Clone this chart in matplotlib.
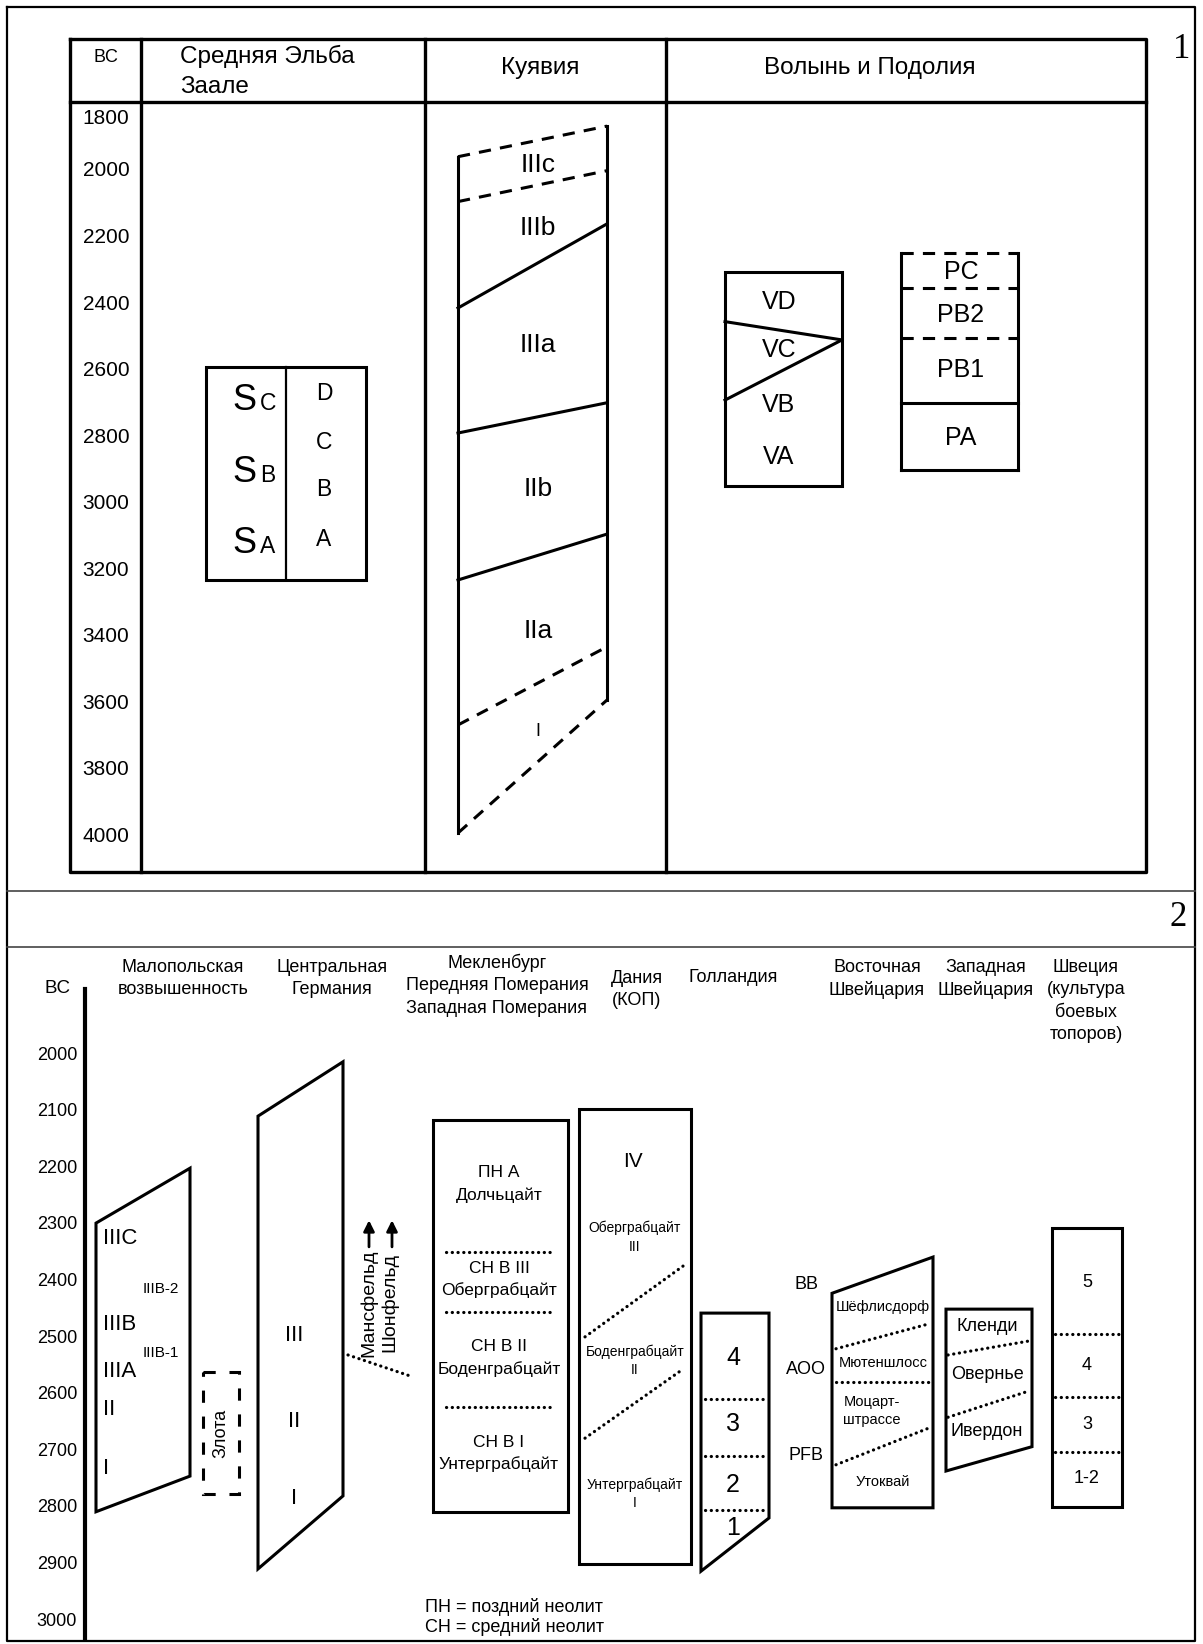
import matplotlib
matplotlib.use('Agg')
import matplotlib.pyplot as plt
from matplotlib import font_manager
from matplotlib.patches import Polygon

# ======================= DATA =======================
# ---- panel 1 ----
P1_TICKS = [1800, 2000, 2200, 2400, 2600, 2800, 3000, 3200, 3400, 3600, 3800, 4000]
P1_HEADER_BC = 'BC'
P1_HEADER_ELBE = ['Средняя Эльба', 'Заале']
P1_HEADER_KUY = 'Куявия'
P1_HEADER_VOL = 'Волынь и Подолия'

ELBE_BOX = [2590, 3230]
ELBE_S_SUBS = ['C', 'B', 'A']
ELBE_S_YEARS = [2719, 2935, 3149]
ELBE_PHASES = ['D', 'C', 'B', 'A']
ELBE_PHASE_YEARS = [2668, 2817, 2959, 3107]

KUY_LEFT = [1957, 2092, 2412, 2788, 3230, 3666, 3991]
KUY_RIGHT = [1865, 1999, 2159, 2697, 3092, 3431, 3591]
KUY_DASHED = [True, True, False, False, False, True, True]
KUY_LABELS = ['IIIc', 'IIIb', 'IIIa', 'IIb', 'IIa', 'I']
KUY_LABEL_YEARS = [1982, 2172, 2523, 2957, 3384, 3687]

VOL_BOX = [2303, 2947]
VOL_SPLITS_LEFT = [2453, 2689]
VOL_SPLITS_RIGHT = [2508, 2508]
VOL_LABELS = ['VD', 'VC', 'VB', 'VA']
VOL_LABEL_YEARS = [2393, 2538, 2704, 2859]

POD_BOUNDS = [2247, 2353, 2503, 2699, 2899]
POD_DASHED = [True, True, True, False, False]
POD_LABELS = ['PC', 'PB2', 'PB1', 'PA']
POD_LABEL_YEARS = [2303, 2433, 2598, 2803]

# ---- panel 2 ----
P2_TICKS = [2000, 2100, 2200, 2300, 2400, 2500, 2600, 2700, 2800, 2900, 3000]
P2_COLUMNS = [['Малопольская', 'возвышенность'],
              ['Центральная', 'Германия'],
              ['Мекленбург', 'Передняя Померания', 'Западная Померания'],
              ['Дания', '(КОП)'],
              ['Голландия'],
              ['Восточная', 'Швейцария'],
              ['Западная', 'Швейцария'],
              ['Швеция', '(культура', 'боевых', 'топоров)']]

MAL_TOP = [2297, 2200]      # left, right
MAL_BOTTOM = [2807, 2744]   # left, right
MAL_LABELS = ['IIIC', 'IIIB', 'IIIA', 'II', 'I']
MAL_LABEL_YEARS = [2324, 2477, 2560, 2627, 2730]
MAL_SUBLABELS = ['IIIB-2', 'IIIB-1']
MAL_SUBLABEL_YEARS = [2414, 2527]

ZLOTA_BOX = [2560, 2776]
ZLOTA_LABEL = 'Злота'
ZLOTA_LABEL_YEAR = 2668

CG_TOP = [2108, 2012]
CG_BOTTOM = [2908, 2779]
CG_LABELS = ['III', 'II', 'I']
CG_LABEL_YEARS = [2496, 2648, 2783]

ARROW_LABELS = ['Мансфельд', 'Шонфельд']
ARROW_FROM, ARROW_TO = 2339, 2292
ARROW_LABEL_YEAR = 2438
LINK_YEARS = [2530, 2567]

MECK_BOX = [2115, 2807]
MECK_DOTS = [2348, 2454, 2622]
MECK_LABELS = ['ПН А', 'Долчьцайт', 'СН В III', 'Оберграбцайт',
               'СН В II', 'Боденграбцайт', 'СН В I', 'Унтерграбцайт']
MECK_LABEL_YEARS = [2207, 2248, 2377, 2415, 2515, 2555, 2684, 2723]

DK_BOX = [2095, 2899]
DK_LINES_LEFT = [2498, 2677]
DK_LINES_RIGHT = [2373, 2555]
DK_LABELS = ['IV', 'Оберграбцайт', 'III', 'Боденграбцайт', 'II', 'Унтерграбцайт', 'I']
DK_LABEL_YEARS = [2189, 2306, 2339, 2524, 2557, 2760, 2792]

NL_TOP = 2456
NL_BOTTOM = [2912, 2818]    # left, right
NL_DOTS = [2608, 2708, 2804]
NL_LABELS = ['4', '3', '2', '1']
NL_LABEL_YEARS = [2536, 2652, 2760, 2836]

ESW_TOP = [2421, 2357]
ESW_BOTTOM = 2800
ESW_LINES_LEFT = [2519, 2578, 2724]
ESW_LINES_RIGHT = [2475, 2578, 2659]
ESW_LABELS = ['Шёфлисдорф', 'Мютеншлосс', 'Моцарт-', 'штрассе', 'Утоквай']
ESW_LABEL_YEARS = [2445, 2544, 2613, 2645, 2754]
ESW_SIDE = ['BB', 'AOO', 'PFB']
ESW_SIDE_YEARS = [2406, 2556, 2707]

WSW_TOP = 2449
WSW_BOTTOM = [2735, 2692]
WSW_LINES_LEFT = [2530, 2640]
WSW_LINES_RIGHT = [2505, 2593]
WSW_LABELS = ['Кленди', 'Овернье', 'Ивердон']
WSW_LABEL_YEARS = [2480, 2565, 2666]

SWE_BOX = [2306, 2799]
SWE_DOTS = [2493, 2604, 2702]
SWE_LABELS = ['5', '4', '3', '1-2']
SWE_LABEL_YEARS = [2402, 2548, 2653, 2749]

LEGEND_LINES = ['ПН = поздний неолит', 'СН = средний неолит']

# ======================= STYLE / LAYOUT =======================
W, H, DPI = 1203, 1644, 100
names = {f.name for f in font_manager.fontManager.ttflist}
SANS = 'Liberation Sans' if 'Liberation Sans' in names else 'DejaVu Sans'
SERIF = 'Liberation Serif' if 'Liberation Serif' in names else 'DejaVu Serif'
plt.rcParams['font.family'] = [SANS, 'DejaVu Sans']

LW = 2.2
DASH = (0, (4, 3))
DOT = (0, (0.05, 1.75))
K = 'black'

fig = plt.figure(figsize=(W / DPI, H / DPI), dpi=DPI)
fig.patch.set_facecolor('white')

# pixel overlay for frames / headers
bg = fig.add_axes([0, 0, 1, 1])
bg.set_xlim(0, W)
bg.set_ylim(H, 0)
bg.set_axis_off()


def panel_axes(top, bot, ref_year, ref_px, px_per_year):
    ax = fig.add_axes([0, 1 - bot / H, 1, (bot - top) / H])
    ax.set_xlim(0, W)
    ax.set_ylim(ref_year + (bot - ref_px) / px_per_year,
                ref_year + (top - ref_px) / px_per_year)
    ax.set_axis_off()
    ax.patch.set_alpha(0)
    return ax


def seg(ax, x, y, ls='-', lw=LW, color=K):
    line, = ax.plot(x, y, color=color, lw=lw, ls=ls, solid_capstyle='projecting')
    if ls == DOT:
        line.set_dash_capstyle('round')
    return line


def poly(ax, pts, lw=LW):
    p = Polygon(pts, closed=True, fill=False, ec=K, lw=lw, joinstyle='miter')
    ax.add_patch(p)
    return p


# ---- frames ----
FR = 1.6
seg(bg, [7, 1195, 1195, 7, 7], [7, 7, 1641, 1641, 7], lw=FR)
seg(bg, [7, 1195], [891, 891], lw=1.2, color='#444')
seg(bg, [7, 1195], [947, 947], lw=1.2, color='#444')
bg.text(1182, 50, '1', fontsize=25, family=SERIF, ha='center', va='center')
bg.text(1178, 917, '2', fontsize=25, family=SERIF, ha='center', va='center')

# ---- panel 1 table ----
TL, TR, TT, TB, THL = 70, 1146, 39, 872, 102
COLX = [141, 425, 666]
seg(bg, [TL, TR, TR, TL, TL], [TT, TT, TB, TB, TT], lw=2.4)
seg(bg, [TL, TR], [THL, THL], lw=2.4)
for cx in COLX:
    seg(bg, [cx, cx], [TT, TB], lw=2.4)
bg.text(106, 58, P1_HEADER_BC, fontsize=13, ha='center', va='center')
bg.text(180, 56, P1_HEADER_ELBE[0], fontsize=17.5, ha='left', va='center')
bg.text(180, 87, P1_HEADER_ELBE[1], fontsize=17.5, ha='left', va='center')
bg.text(540, 68, P1_HEADER_KUY, fontsize=17.5, ha='center', va='center')
bg.text(870, 68, P1_HEADER_VOL, fontsize=17.5, ha='center', va='center')

ax1 = panel_axes(0, 891, 2000, 171, 0.3325)
year_min_label = 2000 + ((THL + 16) - 171) / 0.3325
for t in P1_TICKS:
    ax1.text(106, max(t, year_min_label), str(t), fontsize=15, ha='center', va='center')

# Elbe/Saale box
EX = [206, 286, 366]
poly(ax1, [(EX[0], ELBE_BOX[0]), (EX[2], ELBE_BOX[0]), (EX[2], ELBE_BOX[1]), (EX[0], ELBE_BOX[1])])
seg(ax1, [EX[1], EX[1]], ELBE_BOX, lw=1.6)
for sub, yr in zip(ELBE_S_SUBS, ELBE_S_YEARS):
    ax1.text(232, yr, 'S', fontsize=26, ha='left', va='baseline')
    ax1.text(260, yr, sub, fontsize=16.5, ha='left', va='baseline')
for lab, yr in zip(ELBE_PHASES, ELBE_PHASE_YEARS):
    ax1.text(324, yr, lab, fontsize=16.5, ha='center', va='center')

# Kuyavia
KX = [458, 607]
seg(ax1, [KX[0], KX[0]], [KUY_LEFT[0], KUY_LEFT[-1]])
seg(ax1, [KX[1], KX[1]], [KUY_RIGHT[0], KUY_RIGHT[-1]])
for yl, yr, d in zip(KUY_LEFT, KUY_RIGHT, KUY_DASHED):
    seg(ax1, KX, [yl, yr], ls=DASH if d else '-')
for lab, yr in zip(KUY_LABELS, KUY_LABEL_YEARS):
    ax1.text(538, yr, lab, fontsize=13 if lab == 'I' else 19, ha='center', va='center')

# Volhynia V
VX = [725, 842]
poly(ax1, [(VX[0], VOL_BOX[0]), (VX[1], VOL_BOX[0]), (VX[1], VOL_BOX[1]), (VX[0], VOL_BOX[1])])
for yl, yr in zip(VOL_SPLITS_LEFT, VOL_SPLITS_RIGHT):
    seg(ax1, VX, [yl, yr])
for lab, yr in zip(VOL_LABELS, VOL_LABEL_YEARS):
    ax1.text(779, yr, lab, fontsize=18, ha='center', va='center')

# Podolia P
PX = [901, 1018]
seg(ax1, [PX[0], PX[0]], [POD_BOUNDS[0], POD_BOUNDS[-1]])
seg(ax1, [PX[1], PX[1]], [POD_BOUNDS[0], POD_BOUNDS[-1]])
for yb, d in zip(POD_BOUNDS, POD_DASHED):
    seg(ax1, PX, [yb, yb], ls=DASH if d else '-')
for lab, yr in zip(POD_LABELS, POD_LABEL_YEARS):
    ax1.text(961, yr, lab, fontsize=18, ha='center', va='center')

# ======================= PANEL 2 =======================
COLS_X = [183, 332, 497, 637, 733, 877, 986, 1086]
COLS_Y0 = [967, 967, 963, 978, 977, 967, 967, 967]
for lines, cx, cy in zip(P2_COLUMNS, COLS_X, COLS_Y0):
    for i, ln in enumerate(lines):
        bg.text(cx, cy + i * 22.5, ln, fontsize=13, ha='center', va='center')

ax2 = panel_axes(891, H, 2000, 1055, 0.566)
seg(ax2, [85, 85], [1883, 3030], lw=3)
ax2.text(57, 1883, 'BC', fontsize=13.5, ha='center', va='center')
for t in P2_TICKS:
    ax2.text(77, t, str(t), fontsize=13, ha='right', va='center')

# Malopolska
MX = [96, 190]
poly(ax2, [(MX[0], MAL_TOP[0]), (MX[1], MAL_TOP[1]), (MX[1], MAL_BOTTOM[1]), (MX[0], MAL_BOTTOM[0])])
for lab, yr in zip(MAL_LABELS, MAL_LABEL_YEARS):
    ax2.text(103, yr, lab, fontsize=16, ha='left', va='center')
for lab, yr in zip(MAL_SUBLABELS, MAL_SUBLABEL_YEARS):
    ax2.text(143, yr, lab, fontsize=11, ha='left', va='center')

# Zlota
ZX = [203, 239]
zp = poly(ax2, [(ZX[0], ZLOTA_BOX[0]), (ZX[1], ZLOTA_BOX[0]), (ZX[1], ZLOTA_BOX[1]), (ZX[0], ZLOTA_BOX[1])])
zp.set_linestyle((0, (4, 4.5)))
ax2.text(221, ZLOTA_LABEL_YEAR, ZLOTA_LABEL, fontsize=13, rotation=90, ha='center', va='center')

# Central Germany
CX = [258, 343]
poly(ax2, [(CX[0], CG_TOP[0]), (CX[1], CG_TOP[1]), (CX[1], CG_BOTTOM[1]), (CX[0], CG_BOTTOM[0])])
for lab, yr in zip(CG_LABELS, CG_LABEL_YEARS):
    ax2.text(294, yr, lab, fontsize=16, ha='center', va='center')

# Mansfeld / Schonfeld
for lab, ax_x, tx_x in zip(ARROW_LABELS, [369, 392], [369, 390]):
    ax2.annotate('', xy=(ax_x, ARROW_TO), xytext=(ax_x, ARROW_FROM),
                 arrowprops=dict(arrowstyle='-|>', color=K, lw=2, mutation_scale=16,
                                 shrinkA=0, shrinkB=0))
    ax2.text(tx_x, ARROW_LABEL_YEAR, lab, fontsize=14, rotation=90, ha='center', va='center')
seg(ax2, [348, 410], LINK_YEARS, ls=DOT, lw=2.3)

# Mecklenburg
MKX = [433, 568]
poly(ax2, [(MKX[0], MECK_BOX[0]), (MKX[1], MECK_BOX[0]), (MKX[1], MECK_BOX[1]), (MKX[0], MECK_BOX[1])])
for yd in MECK_DOTS:
    seg(ax2, [446, 553], [yd, yd], ls=DOT, lw=2.3)
for lab, yr in zip(MECK_LABELS, MECK_LABEL_YEARS):
    ax2.text(499, yr, lab, fontsize=12.5, ha='center', va='center')

# Denmark
DX = [579, 691]
poly(ax2, [(DX[0], DK_BOX[0]), (DX[1], DK_BOX[0]), (DX[1], DK_BOX[1]), (DX[0], DK_BOX[1])])
for yl, yr in zip(DK_LINES_LEFT, DK_LINES_RIGHT):
    seg(ax2, [585, 683], [yl, yr], ls=DOT, lw=2.3)
for lab, yr in zip(DK_LABELS, DK_LABEL_YEARS):
    if lab == 'IV':
        ax2.text(633, yr, lab, fontsize=15, ha='center', va='center')
    else:
        ax2.text(635, yr, lab, fontsize=10, ha='center', va='center')

# Holland
NX = [701, 769]
poly(ax2, [(NX[0], NL_TOP), (NX[1], NL_TOP), (NX[1], NL_BOTTOM[1]), (NX[0], NL_BOTTOM[0])])
for yd in NL_DOTS:
    seg(ax2, [705, 767], [yd, yd], ls=DOT, lw=2.3)
for lab, yr in zip(NL_LABELS, NL_LABEL_YEARS):
    ax2.text(733, yr, lab, fontsize=18, ha='center', va='center')

# East Switzerland
EWX = [832, 933]
poly(ax2, [(EWX[0], ESW_TOP[0]), (EWX[1], ESW_TOP[1]), (EWX[1], ESW_BOTTOM), (EWX[0], ESW_BOTTOM)])
for yl, yr in zip(ESW_LINES_LEFT, ESW_LINES_RIGHT):
    seg(ax2, [836, 929], [yl, yr], ls=DOT, lw=2.3)
for lab, yr in zip(ESW_LABELS, ESW_LABEL_YEARS):
    xx = 872 if lab in ('Моцарт-', 'штрассе') else 883
    ax2.text(xx, yr, lab, fontsize=10.5, ha='center', va='center')
for lab, yr in zip(ESW_SIDE, ESW_SIDE_YEARS):
    ax2.text(806, yr, lab, fontsize=13, ha='center', va='center')

# West Switzerland
WX = [946, 1032]
poly(ax2, [(WX[0], WSW_TOP), (WX[1], WSW_TOP), (WX[1], WSW_BOTTOM[1]), (WX[0], WSW_BOTTOM[0])])
for yl, yr in zip(WSW_LINES_LEFT, WSW_LINES_RIGHT):
    seg(ax2, [948, 1030], [yl, yr], ls=DOT, lw=2.3)
for lab, yr in zip(WSW_LABELS, WSW_LABEL_YEARS):
    ax2.text(987, yr, lab, fontsize=13, ha='center', va='center')

# Sweden
SX = [1052, 1122]
poly(ax2, [(SX[0], SWE_BOX[0]), (SX[1], SWE_BOX[0]), (SX[1], SWE_BOX[1]), (SX[0], SWE_BOX[1])])
for yd in SWE_DOTS:
    seg(ax2, [1055, 1120], [yd, yd], ls=DOT, lw=2.3)
for lab, yr in zip(SWE_LABELS, SWE_LABEL_YEARS):
    ax2.text(1087, yr, lab, fontsize=13, ha='center', va='center')

# legend
for i, ln in enumerate(LEGEND_LINES):
    bg.text(425, 1607 + i * 20, ln, fontsize=13, ha='left', va='center')

fig.savefig('out.png', dpi=DPI, facecolor='white')
